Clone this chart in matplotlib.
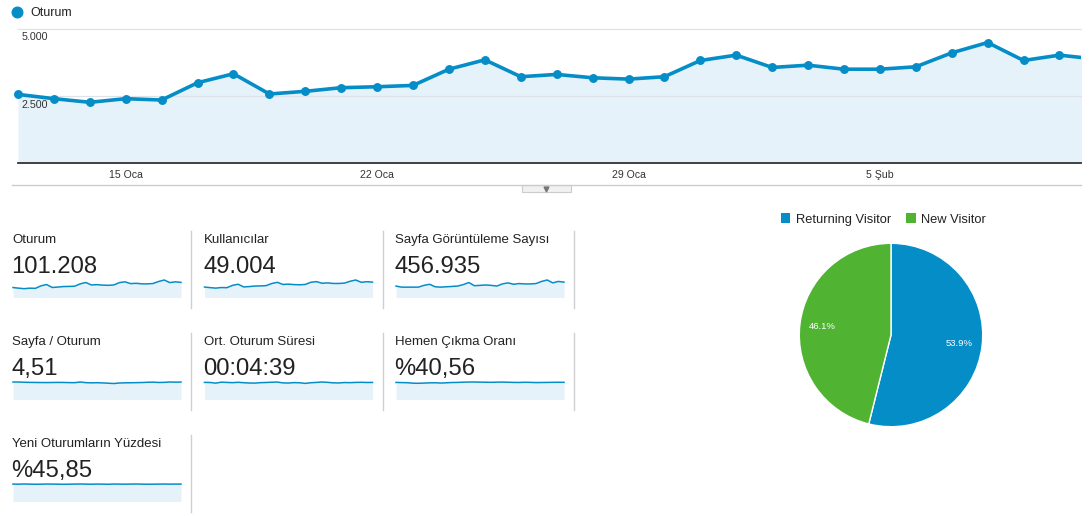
import matplotlib
matplotlib.use("Agg")
import matplotlib.pyplot as plt
from matplotlib.patches import Rectangle

plt.rcParams["font.family"] = ["Liberation Sans", "DejaVu Sans"]

BLUE = "#058dc7"
GREEN = "#50b432"
FILL = "#e6f2fa"
TEXT = "#222222"

# daily sessions, 12 Oca .. 11 Şub
sessions = [2560, 2400, 2265, 2400, 2350, 2995, 3330, 2575, 2675, 2810, 2845,
            2895, 3500, 3850, 3220, 3305, 3180, 3130, 3220, 3825, 4025, 3565,
            3650, 3500, 3500, 3590, 4110, 4495, 3825, 4025, 3880]
tick_days = [3, 10, 17, 24]
tick_labels = ["15 Oca", "22 Oca", "29 Oca", "5 Şub"]
y_ticks = [2500, 5000]

metric_titles = ["Oturum", "Kullanıcılar", "Sayfa Görüntüleme Sayısı",
                 "Sayfa / Oturum", "Ort. Oturum Süresi", "Hemen Çıkma Oranı",
                 "Yeni Oturumların Yüzdesi"]
metric_values = ["101.208", "49.004", "456.935", "4,51", "00:04:39",
                 "%40,56", "%45,85"]

users = [1480, 1400, 1330, 1410, 1390, 1720, 1880, 1500, 1550, 1620, 1640,
         1680, 1980, 2150, 1850, 1890, 1830, 1800, 1850, 2160, 2250, 2020,
         2070, 1990, 1990, 2040, 2300, 2480, 2150, 2240, 2180]
pageviews = [13390, 12130, 12130, 12130, 12130, 14220, 15480, 12550, 12130,
             12550, 12970, 13390, 15060, 17570, 13810, 14220, 14640, 14220,
             13390, 15900, 17150, 15480, 16320, 15900, 15900, 16320, 18830,
             20500, 17150, 18830, 17990]
pages_per_session = [4.60, 4.62, 4.55, 4.52, 4.50, 4.48, 4.47, 4.49, 4.51,
                     4.50, 4.46, 4.44, 4.62, 4.45, 4.40, 4.43, 4.38, 4.30,
                     4.22, 4.35, 4.40, 4.42, 4.45, 4.48, 4.55, 4.58, 4.50,
                     4.52, 4.62, 4.58, 4.60]
avg_duration = [285, 283, 272, 288, 284, 280, 286, 279, 274, 273, 280, 283,
                287, 290, 276, 274, 281, 278, 268, 279, 284, 291, 285, 277,
                275, 282, 280, 284, 286, 283, 284]
bounce_rate = [41.0, 40.6, 40.3, 39.2, 38.9, 39.4, 39.9, 40.2, 39.5, 40.1,
               40.8, 41.0, 41.6, 41.9, 42.0, 41.7, 41.5, 41.2, 41.6, 41.8,
               41.4, 41.0, 40.9, 41.3, 41.1, 40.6, 40.8, 41.0, 41.2, 41.3, 41.2]
new_sessions_pct = [46.2, 45.9, 46.4, 46.0, 45.7, 45.9, 46.3, 46.1, 46.0,
                    45.6, 45.9, 46.2, 46.4, 46.1, 45.8, 46.2, 46.0, 45.7,
                    46.3, 46.1, 45.9, 46.2, 46.4, 46.0, 45.8, 45.9, 46.1,
                    46.3, 46.0, 46.2, 46.1]
sparks = [sessions, users, pageviews, pages_per_session, avg_duration,
          bounce_rate, new_sessions_pct]

visitor_types = ["Returning Visitor", "New Visitor"]
visitor_share = [53.9, 46.1]

W, H = 1092, 516
fig = plt.figure(figsize=(W / 100, H / 100), dpi=100)


def px_axes(x0, y0, x1, y1):
    return fig.add_axes([x0 / W, 1 - y1 / H, (x1 - x0) / W, (y1 - y0) / H])


base = px_axes(0, 0, W, H)
base.set_xlim(0, W)
base.set_ylim(H, 0)
base.axis("off")

# --- main sessions chart
base.plot(16.5, 11.8, "o", color=BLUE, ms=7.6)
base.text(30.5, 16.2, "Oturum", fontsize=9, color=TEXT, va="baseline")

ax = px_axes(18, 29, 1081, 163)
days = list(range(len(sessions)))
x_max = 29.6
ax.fill_between(days, sessions, color=FILL, lw=0, zorder=1)
for v in y_ticks:
    ax.axhline(v, color="#dde3e7", lw=0.9, zorder=1.5, clip_on=False)
    ax.annotate(f"{v:,}".replace(",", "."), xy=(0, v),
                xycoords=("axes fraction", "data"), xytext=(3.8, -11.5),
                textcoords="offset pixels", va="baseline", ha="left",
                fontsize=7.7, color="#333333")
ax.plot(days, sessions, color=BLUE, lw=2.6, zorder=2, solid_joinstyle="round")
shown = [d for d in days if d <= x_max]
ax.plot(shown, [sessions[d] for d in shown], "o", color=BLUE, ms=5.4,
        zorder=3, clip_on=False)
ax.axhline(0, color="#333333", lw=1.3, zorder=4, clip_on=False)
ax.set_xlim(0, x_max)
ax.set_ylim(0, 5000)
ax.set_xticks(tick_days, tick_labels)
ax.set_yticks([])
ax.tick_params(axis="x", length=0, pad=4.8, labelsize=7.6, labelcolor="#333333")
for s in ax.spines.values():
    s.set_visible(False)

# divider with the small toggle tab
base.plot([12, 1081], [185, 185], color="#cccccc", lw=1)
base.add_patch(Rectangle((521.5, 185), 49, 7, facecolor="#f1f1f1",
                         edgecolor="#cccccc", lw=0.8))
base.plot(546, 188.5, "v", color="#777777", ms=3.5)

# --- scorecards
for i, (title, value, series) in enumerate(zip(metric_titles, metric_values, sparks)):
    row, col = divmod(i, 3)
    x0 = 12 + col * 191.5
    dy = row * 102
    base.text(x0, 243.3 + dy, title, fontsize=9.5, color=TEXT, va="baseline")
    base.text(x0 - 0.5, 273.3 + dy, value, fontsize=17.2, color=TEXT, va="baseline")
    base.plot([x0 + 179] * 2, [231 + dy, 308 + dy], color="#d0d0d0", lw=1)
    sp = px_axes(x0 + 1, 280 + dy, x0 + 169, 297.5 + dy)
    xs = list(range(len(series)))
    sp.fill_between(xs, series, color=FILL, lw=0)
    sp.plot(xs, series, color=BLUE, lw=1.1, clip_on=False)
    sp.set_xlim(0, len(series) - 1)
    sp.set_ylim(0, max(series))
    sp.axis("off")

# --- visitor type pie
for (label, color), lx in zip(zip(visitor_types, [BLUE, GREEN]), [780.5, 906]):
    base.add_patch(Rectangle((lx, 213.3), 9.5, 9.5, facecolor=color, lw=0))
    base.text(lx + 15.2, 222.7, label, fontsize=9.3, color=TEXT, va="baseline")

pax = px_axes(799.3, 243.3, 982.7, 426.7)
wedges, _, autotexts = pax.pie(visitor_share, colors=[BLUE, GREEN],
                               startangle=90, counterclock=False,
                               autopct="%.1f%%", pctdistance=0.75,
                               wedgeprops=dict(edgecolor="white", lw=1))
for t in autotexts:
    t.set_color("white")
    t.set_fontsize(6.8)
pax.set_xlim(-1, 1)
pax.set_ylim(-1, 1)
pax.set_aspect("equal")

fig.savefig("out.png", dpi=100)
